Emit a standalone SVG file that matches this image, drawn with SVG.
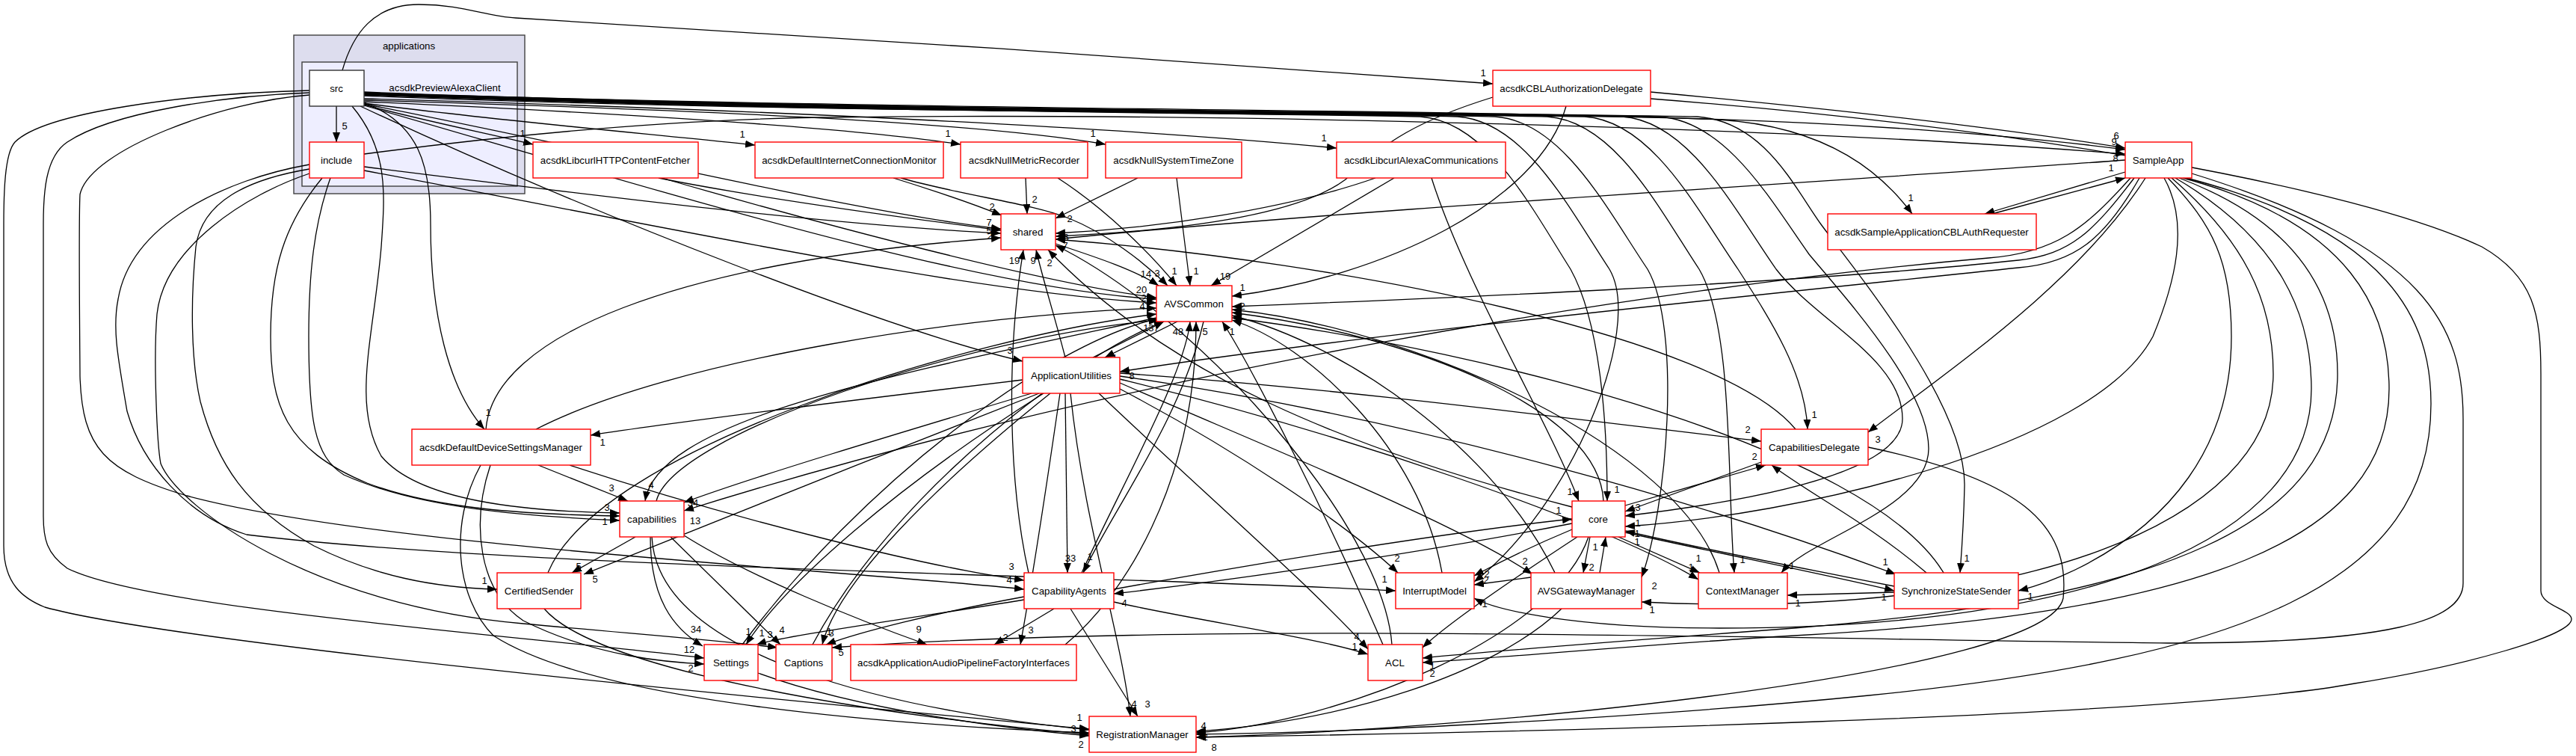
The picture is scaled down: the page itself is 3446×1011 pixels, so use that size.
<svg xmlns="http://www.w3.org/2000/svg" width="3446" height="1011" viewBox="0 0 3446 1011">
<defs>
<marker id="ah" markerWidth="14" markerHeight="10" refX="13" refY="5" orient="auto" markerUnits="userSpaceOnUse"><path d="M0,0L13,5L0,10z" fill="#000"/></marker>
<style>
.nd{fill:#fff;stroke:#ff0000;stroke-width:1.4}
.nds{fill:#fff;stroke:#333;stroke-width:1.4}
.cl1{fill:#ddddee;stroke:#404040;stroke-width:1.4}
.cl2{fill:#eeeeff;stroke:#404040;stroke-width:1.4}
text{font-family:"Liberation Sans",Arial,Helvetica,sans-serif;font-size:13.3px;fill:#000}
.t{text-anchor:middle}
#edges path{fill:none;stroke:#000;stroke-width:1.3;marker-end:url(#ah)}
#edge-labels text{font-size:13px;text-anchor:middle}
</style>
</defs>
<rect width="3446" height="1011" fill="#fff"/>
<g id="cluster-applications">
<rect class="cl1" x="393" y="47" width="309" height="212"/>
<text class="t" x="547" y="66">applications</text>
</g>
<g id="cluster-acsdkPreviewAlexaClient">
<rect class="cl2" x="404" y="83" width="288" height="166"/>
<text class="t" x="595" y="122">acsdkPreviewAlexaClient</text>
</g>
<g id="edges">
<path d="M450,142 L450,190"/>
<path d="M458,94 C472,45 500,6 560,6 C620,6 650,22 690,24 C1000,42 1700,88 1997,112"/>
<path d="M487,140 C560,160 650,178 713,193"/>
<path d="M487,138 C650,160 880,180 1010,194"/>
<path d="M487,136 C800,150 1120,168 1285,193"/>
<path d="M487,134 C900,146 1300,162 1479,193"/>
<path d="M487,132 C1000,146 1500,170 1788,198"/>
<path d="M487,128 C1000,150 1700,150 2100,155 C2500,160 2750,188 2843,200"/>
<path d="M487,124 C1200,148 2000,146 2300,160 C2450,170 2520,235 2558,286"/>
<path d="M487,139 C800,200 1150,285 1339,306"/>
<path d="M487,141 C900,260 1300,385 1547,400"/>
<path d="M482,142 C800,290 1200,445 1368,483"/>
<path d="M487,137 C560,165 576,220 576,300 C576,420 600,520 648,574"/>
<path d="M414,121 C250,125 60,150 20,190 C6,205 5,260 5,300 L5,730 C5,780 30,800 60,812 C250,865 1200,950 1457,975"/>
<path d="M414,124 C300,128 150,150 90,190 C60,210 58,260 58,300 L58,690 C58,720 62,740 90,760 C200,815 700,850 942,880"/>
<path d="M414,127 C300,135 120,200 107,260 C105,300 107,480 107,503 C110,600 140,630 250,663 C500,730 1100,760 1370,788"/>
<path d="M487,127 C1100,150 1600,150 1900,156 C1990,162 2050,280 2101,360 C2140,430 2150,560 2150,670"/>
<path d="M487,126 C1100,150 1650,150 1950,156 C2040,162 2100,280 2153,360 C2200,440 2100,680 1972,778"/>
<path d="M487,126 C1100,149 1700,150 2000,156 C2090,162 2150,280 2204,360 C2250,440 2230,680 2196,772"/>
<path d="M487,125 C1100,149 1770,150 2070,156 C2160,162 2220,280 2273,360 C2320,440 2310,650 2320,766"/>
<path d="M487,125 C1100,148 1820,150 2120,156 C2210,162 2270,280 2325,360 C2370,430 2415,500 2418,574"/>
<path d="M487,124 C1100,148 1870,150 2170,156 C2260,162 2320,280 2376,360 C2430,430 2545,480 2545,560 C2545,640 2300,675 2174,690"/>
<path d="M487,124 C1100,147 1920,150 2220,156 C2310,162 2370,270 2420,340 C2470,400 2580,520 2580,600 C2580,680 2420,720 2383,766"/>
<path d="M487,123 C1100,147 1970,150 2270,156 C2360,162 2400,250 2436,300 C2480,360 2630,540 2628,650 C2627,700 2624,740 2622,766"/>
<path d="M487,223 C800,262 1100,300 1339,312"/>
<path d="M487,228 C900,305 1300,392 1547,405"/>
<path d="M487,206 C700,178 900,160 1100,157 C1600,150 2400,170 2843,206"/>
<path d="M431,238 C380,300 362,360 362,450 C362,540 380,600 491,646 C580,680 700,688 829,690"/>
<path d="M442,238 C420,300 413,366 413,450 C413,560 420,610 460,635 C560,680 700,690 829,696"/>
<path d="M414,226 C330,240 270,270 262,330 C255,400 255,480 268,537 C290,620 330,680 420,730 C500,770 580,786 665,788"/>
<path d="M414,220 C300,240 175,300 158,400 C150,440 158,480 170,550 C190,620 250,690 330,715 C700,760 1500,770 1867,790"/>
<path d="M414,232 C330,260 220,330 210,420 C205,480 210,594 215,620 C240,680 420,810 700,834 C850,848 950,855 1040,866"/>
<path d="M471,142 C520,200 515,260 510,330 C500,450 470,540 510,610 C560,670 700,684 829,686"/>
<path d="M881,238 C1000,262 1200,290 1339,308"/>
<path d="M885,238 C1100,300 1400,380 1547,398"/>
<path d="M1195,238 C1250,255 1300,272 1340,288"/>
<path d="M1205,238 C1290,262 1380,272 1430,292 C1480,312 1530,350 1562,382"/>
<path d="M1372,238 L1374,286"/>
<path d="M1415,238 C1480,280 1540,340 1574,382"/>
<path d="M1522,238 L1412,292"/>
<path d="M1574,238 L1592,382"/>
<path d="M1840,238 C1720,280 1550,305 1412,312"/>
<path d="M1865,238 L1620,382"/>
<path d="M1915,238 C1960,380 2070,560 2112,670"/>
<path d="M1997,130 C1900,160 1850,190 1800,240 C1720,300 1500,312 1412,316"/>
<path d="M2095,142 C2060,270 1850,370 1648,396"/>
<path d="M2208,123 C2500,150 2700,175 2843,198"/>
<path d="M2208,132 C2700,170 3150,250 3320,330 C3390,370 3399,420 3399,500 L3399,790 C3399,810 3440,815 3440,828 C3440,850 3300,890 3150,914 C2900,960 2000,980 1600,986"/>
<path d="M2843,230 L2655,286"/>
<path d="M2665,286 L2843,238"/>
<path d="M2843,214 C2500,240 1800,280 1412,320"/>
<path d="M2855,238 C2800,310 2770,340 2700,348 C2400,380 1900,400 1648,410"/>
<path d="M2862,238 C2815,320 2775,352 2700,358 C2300,400 1800,450 1498,497"/>
<path d="M2850,238 C2790,305 2750,338 2660,345 C2200,385 1500,500 915,683"/>
<path d="M2870,238 C2780,380 2600,500 2499,578"/>
<path d="M2900,238 C2960,300 2985,350 2985,450 C2985,600 2900,700 2780,760 C2750,775 2720,785 2700,790"/>
<path d="M2895,238 C2930,300 2909,380 2880,450 C2800,600 2400,690 2174,704"/>
<path d="M2905,238 C3000,320 3041,400 3041,500 C3041,700 2700,830 2196,805"/>
<path d="M2910,238 C3050,320 3092,420 3092,520 C3092,720 2800,840 2300,840 C2100,840 2000,815 1972,800"/>
<path d="M2915,238 C3080,300 3127,400 3127,500 C3127,700 2900,800 2400,840 C2200,855 2000,870 1903,880"/>
<path d="M2920,238 C3150,300 3196,420 3196,520 C3196,720 2950,820 2400,850 C2200,862 2000,880 1903,886"/>
<path d="M2925,238 C3200,310 3252,430 3252,540 C3252,780 3000,880 2500,930 C2200,960 1800,980 1600,982"/>
<path d="M2932,232 C3250,330 3295,440 3295,560 L3295,780 C3295,830 3200,860 2900,860 C2400,855 1600,830 1113,866"/>
<path d="M1412,326 C1470,345 1520,362 1550,382"/>
<path d="M1425,478 C1410,420 1394,370 1386,334"/>
<path d="M1376,766 C1350,650 1345,480 1369,334"/>
<path d="M2103,678 C1800,600 1560,500 1402,334"/>
<path d="M1462,478 L1557,430"/>
<path d="M1575,430 L1478,478"/>
<path d="M1447,766 C1500,650 1585,500 1592,430"/>
<path d="M1610,430 C1580,560 1490,680 1449,766"/>
<path d="M1425,526 L1428,766"/>
<path d="M1547,425 C1200,500 880,560 863,670"/>
<path d="M878,670 C900,580 1300,450 1550,428"/>
<path d="M1425,862 C1500,800 1600,650 1600,430"/>
<path d="M1850,862 C1780,700 1680,500 1635,430"/>
<path d="M1862,862 C1850,700 1600,420 1412,328"/>
<path d="M1368,508 C1100,540 900,565 790,582"/>
<path d="M1380,526 C1200,580 1000,640 915,672"/>
<path d="M1390,526 C1200,600 900,720 781,768"/>
<path d="M1396,526 C1200,650 1050,780 998,862"/>
<path d="M1405,526 C1250,650 1120,780 1100,862"/>
<path d="M1418,526 C1400,650 1380,780 1365,862"/>
<path d="M1498,520 C1650,600 1800,700 1870,766"/>
<path d="M1498,512 C1700,600 1950,700 2050,768"/>
<path d="M1498,507 C1800,580 2150,700 2272,775"/>
<path d="M1498,503 C1900,560 2300,680 2536,768"/>
<path d="M1498,499 C1800,520 2100,560 2356,590"/>
<path d="M1470,526 C1600,650 1750,780 1830,868"/>
<path d="M1432,526 C1450,700 1500,850 1512,958"/>
<path d="M720,622 L840,670"/>
<path d="M762,622 C1000,700 1250,760 1370,776"/>
<path d="M717,574 C900,480 1300,420 1547,412"/>
<path d="M650,574 C660,450 900,350 1339,318"/>
<path d="M643,622 C600,700 610,800 660,850 C800,940 1200,970 1457,980"/>
<path d="M656,622 C630,700 640,790 700,830 C800,880 900,886 942,888"/>
<path d="M850,718 L765,766"/>
<path d="M870,718 C870,800 900,840 940,864"/>
<path d="M897,718 L1044,862"/>
<path d="M915,716 C1000,770 1150,830 1240,862"/>
<path d="M872,718 C880,880 1200,950 1457,976"/>
<path d="M733,766 C800,600 1300,450 1547,420"/>
<path d="M728,814 C800,900 1200,960 1457,982"/>
<path d="M993,862 C1150,650 1400,460 1549,426"/>
<path d="M1087,862 C1200,650 1450,470 1557,430"/>
<path d="M1014,900 C1150,950 1350,975 1457,984"/>
<path d="M1410,814 L1330,862"/>
<path d="M1370,798 C1250,820 1150,845 1105,862"/>
<path d="M1370,802 C1200,830 1050,850 1012,862"/>
<path d="M1432,814 L1522,958"/>
<path d="M1490,805 C1600,830 1760,852 1830,875"/>
<path d="M1490,788 C1700,750 1950,710 2103,694"/>
<path d="M2103,700 C1950,730 1700,770 1490,794"/>
<path d="M2174,676 L2362,622"/>
<path d="M2356,618 L2174,684"/>
<path d="M2145,670 C2140,550 1900,450 1648,418"/>
<path d="M2127,718 L2118,766"/>
<path d="M2140,766 L2148,718"/>
<path d="M2103,708 C2050,730 2000,755 1972,770"/>
<path d="M2165,718 L2274,766"/>
<path d="M2174,712 C2300,740 2450,770 2534,790"/>
<path d="M2534,784 C2400,758 2250,728 2174,710"/>
<path d="M2534,792 L2391,796"/>
<path d="M2110,718 C2000,790 1930,840 1903,866"/>
<path d="M2125,718 C2080,850 1800,965 1600,980"/>
<path d="M2402,574 C2300,450 1800,350 1412,320"/>
<path d="M2499,598 C2700,640 2770,700 2760,800 C2740,900 2000,975 1600,986"/>
<path d="M2577,766 C2500,700 2420,660 2370,622"/>
<path d="M2600,766 C2500,600 2000,470 1648,425"/>
<path d="M2080,766 C2000,600 1800,460 1648,422"/>
<path d="M2089,814 C2000,900 1800,965 1600,978"/>
<path d="M1929,766 C1900,600 1750,460 1648,428"/>
<path d="M2300,766 C2250,600 1900,440 1648,414"/>
<path d="M2048,772 L1972,782"/>
</g>
<g id="edge-labels">
<text x="461" y="173">5</text>
<text x="1984" y="102">1</text>
<text x="699" y="183">1</text>
<text x="993" y="184">1</text>
<text x="1268" y="183">1</text>
<text x="1462" y="183">1</text>
<text x="1771" y="189">1</text>
<text x="2828" y="194">9</text>
<text x="2556" y="269">1</text>
<text x="1323" y="302">7</text>
<text x="1527" y="392">20</text>
<text x="1351" y="473">3</text>
<text x="653" y="556">1</text>
<text x="1444" y="964">1</text>
<text x="922" y="873">12</text>
<text x="1350" y="780">4</text>
<text x="2163" y="659">1</text>
<text x="1989" y="772">2</text>
<text x="2213" y="788">2</text>
<text x="2331" y="753">1</text>
<text x="2427" y="559">1</text>
<text x="2191" y="704">1</text>
<text x="2397" y="761">1</text>
<text x="2631" y="751">1</text>
<text x="1324" y="320">2</text>
<text x="1528" y="414">4</text>
<text x="2830" y="216">8</text>
<text x="812" y="683">3</text>
<text x="809" y="702">1</text>
<text x="648" y="781">1</text>
<text x="1852" y="779">1</text>
<text x="1030" y="853">3</text>
<text x="1323" y="313">5</text>
<text x="1530" y="403">2</text>
<text x="1327" y="281">2</text>
<text x="1548" y="370">3</text>
<text x="1384" y="271">2</text>
<text x="1571" y="367">1</text>
<text x="1431" y="297">2</text>
<text x="1600" y="367">1</text>
<text x="1426" y="322">6</text>
<text x="1639" y="374">19</text>
<text x="2100" y="662">1</text>
<text x="1425" y="333">7</text>
<text x="1662" y="389">1</text>
<text x="2831" y="186">6</text>
<text x="1624" y="1004">8</text>
<text x="2669" y="299">1</text>
<text x="2824" y="229">1</text>
<text x="1662" y="414">2</text>
<text x="1514" y="507">8</text>
<text x="930" y="701">13</text>
<text x="2512" y="592">3</text>
<text x="2716" y="802">1</text>
<text x="2190" y="718">1</text>
<text x="2210" y="820">1</text>
<text x="1986" y="812">1</text>
<text x="1916" y="895">1</text>
<text x="1916" y="905">2</text>
<text x="1612" y="990">2</text>
<text x="1125" y="877">5</text>
<text x="1533" y="371">14</text>
<text x="1382" y="353">9</text>
<text x="1357" y="353">19</text>
<text x="1404" y="356">2</text>
<text x="1540" y="443">137</text>
<text x="1491" y="483">1</text>
<text x="1576" y="448">48</text>
<text x="1458" y="749">1</text>
<text x="1432" y="751">33</text>
<text x="871" y="653">4</text>
<text x="1612" y="448">5</text>
<text x="1648" y="448">1</text>
<text x="806" y="596">1</text>
<text x="927" y="677">34</text>
<text x="796" y="779">5</text>
<text x="1001" y="849">1</text>
<text x="1109" y="849">1</text>
<text x="1379" y="847">3</text>
<text x="1869" y="751">2</text>
<text x="2040" y="755">2</text>
<text x="2262" y="763">1</text>
<text x="2522" y="756">1</text>
<text x="2338" y="579">2</text>
<text x="1815" y="856">4</text>
<text x="1517" y="946">4</text>
<text x="818" y="657">3</text>
<text x="1353" y="762">3</text>
<text x="924" y="898">2</text>
<text x="774" y="762">5</text>
<text x="931" y="846">34</text>
<text x="1046" y="847">4</text>
<text x="1229" y="846">9</text>
<text x="1436" y="979">3</text>
<text x="1345" y="857">2</text>
<text x="1112" y="851">3</text>
<text x="1019" y="851">1</text>
<text x="1535" y="946">3</text>
<text x="1812" y="869">1</text>
<text x="2085" y="687">1</text>
<text x="1504" y="811">4</text>
<text x="2347" y="615">2</text>
<text x="2191" y="683">3</text>
<text x="2129" y="763">2</text>
<text x="2134" y="736">1</text>
<text x="2272" y="751">1</text>
<text x="2520" y="803">1</text>
<text x="2190" y="729">1</text>
<text x="2405" y="811">1</text>
<text x="1988" y="780">2</text>
<text x="1610" y="975">4</text>
<text x="1446" y="1000">2</text>
</g>
<g id="node-src"><rect class="nds" x="414" y="94" width="73" height="48"/><text class="t" x="450" y="123">src</text></g>
<g id="node-include"><rect class="nd" x="414" y="190" width="73" height="48"/><text class="t" x="450" y="219">include</text></g>
<g id="node-acsdkLibcurlHTTPContentFetcher"><rect class="nd" x="713" y="190" width="221" height="48"/><text class="t" x="823" y="219">acsdkLibcurlHTTPContentFetcher</text></g>
<g id="node-acsdkDefaultInternetConnectionMonitor"><rect class="nd" x="1010" y="190" width="252" height="48"/><text class="t" x="1136" y="219">acsdkDefaultInternetConnectionMonitor</text></g>
<g id="node-acsdkNullMetricRecorder"><rect class="nd" x="1285" y="190" width="170" height="48"/><text class="t" x="1370" y="219">acsdkNullMetricRecorder</text></g>
<g id="node-acsdkNullSystemTimeZone"><rect class="nd" x="1479" y="190" width="182" height="48"/><text class="t" x="1570" y="219">acsdkNullSystemTimeZone</text></g>
<g id="node-acsdkLibcurlAlexaCommunications"><rect class="nd" x="1788" y="190" width="226" height="48"/><text class="t" x="1901" y="219">acsdkLibcurlAlexaCommunications</text></g>
<g id="node-acsdkCBLAuthorizationDelegate"><rect class="nd" x="1997" y="94" width="211" height="48"/><text class="t" x="2102" y="123">acsdkCBLAuthorizationDelegate</text></g>
<g id="node-SampleApp"><rect class="nd" x="2843" y="190" width="89" height="48"/><text class="t" x="2887" y="219">SampleApp</text></g>
<g id="node-acsdkSampleApplicationCBLAuthRequester"><rect class="nd" x="2445" y="286" width="279" height="48"/><text class="t" x="2584" y="315">acsdkSampleApplicationCBLAuthRequester</text></g>
<g id="node-shared"><rect class="nd" x="1339" y="286" width="73" height="48"/><text class="t" x="1375" y="315">shared</text></g>
<g id="node-AVSCommon"><rect class="nd" x="1547" y="382" width="101" height="48"/><text class="t" x="1597" y="411">AVSCommon</text></g>
<g id="node-ApplicationUtilities"><rect class="nd" x="1368" y="478" width="130" height="48"/><text class="t" x="1433" y="507">ApplicationUtilities</text></g>
<g id="node-acsdkDefaultDeviceSettingsManager"><rect class="nd" x="551" y="574" width="239" height="48"/><text class="t" x="670" y="603">acsdkDefaultDeviceSettingsManager</text></g>
<g id="node-CapabilitiesDelegate"><rect class="nd" x="2356" y="574" width="143" height="48"/><text class="t" x="2427" y="603">CapabilitiesDelegate</text></g>
<g id="node-capabilities"><rect class="nd" x="829" y="670" width="86" height="48"/><text class="t" x="872" y="699">capabilities</text></g>
<g id="node-core"><rect class="nd" x="2103" y="670" width="71" height="48"/><text class="t" x="2138" y="699">core</text></g>
<g id="node-CertifiedSender"><rect class="nd" x="665" y="766" width="112" height="48"/><text class="t" x="721" y="795">CertifiedSender</text></g>
<g id="node-CapabilityAgents"><rect class="nd" x="1370" y="766" width="120" height="48"/><text class="t" x="1430" y="795">CapabilityAgents</text></g>
<g id="node-InterruptModel"><rect class="nd" x="1867" y="766" width="105" height="48"/><text class="t" x="1919" y="795">InterruptModel</text></g>
<g id="node-AVSGatewayManager"><rect class="nd" x="2048" y="766" width="148" height="48"/><text class="t" x="2122" y="795">AVSGatewayManager</text></g>
<g id="node-ContextManager"><rect class="nd" x="2272" y="766" width="119" height="48"/><text class="t" x="2331" y="795">ContextManager</text></g>
<g id="node-SynchronizeStateSender"><rect class="nd" x="2534" y="766" width="166" height="48"/><text class="t" x="2617" y="795">SynchronizeStateSender</text></g>
<g id="node-Settings"><rect class="nd" x="942" y="862" width="72" height="48"/><text class="t" x="978" y="891">Settings</text></g>
<g id="node-Captions"><rect class="nd" x="1038" y="862" width="75" height="48"/><text class="t" x="1075" y="891">Captions</text></g>
<g id="node-acsdkApplicationAudioPipelineFactoryInterfaces"><rect class="nd" x="1138" y="862" width="302" height="48"/><text class="t" x="1289" y="891">acsdkApplicationAudioPipelineFactoryInterfaces</text></g>
<g id="node-ACL"><rect class="nd" x="1830" y="862" width="73" height="48"/><text class="t" x="1866" y="891">ACL</text></g>
<g id="node-RegistrationManager"><rect class="nd" x="1457" y="958" width="143" height="48"/><text class="t" x="1528" y="987">RegistrationManager</text></g>
</svg>
